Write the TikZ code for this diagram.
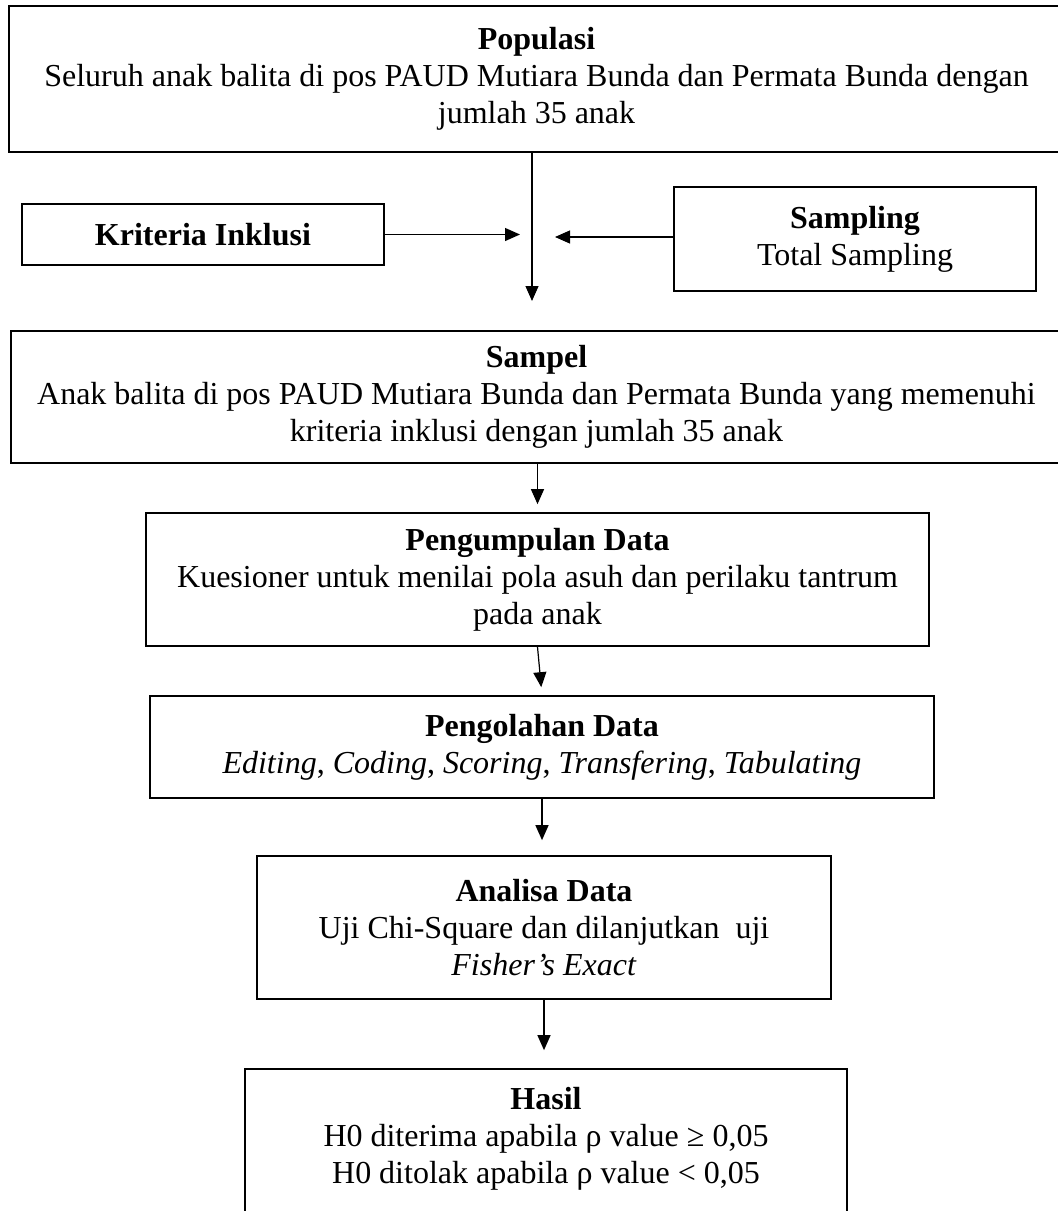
\documentclass[tikz,border=0pt]{standalone}
\usepackage{fontspec}
\setmainfont{Liberation Serif}
\usetikzlibrary{arrows.meta}
\tikzset{
  box/.style={draw, line width=1.7pt, align=center, inner sep=0pt,
    font=\fontsize{32}{37}\selectfont},
  arr/.style={line width=1.2pt, -{Triangle[length=15pt,width=13pt]}},
}
\begin{document}
\begin{tikzpicture}[x=1pt,y=-1pt]
\useasboundingbox (0,0) rectangle (1058,1211);
\fill[white] (0,0) rectangle (1058,1211);
\clip (0,0) rectangle (1058,1211);

\node[box, minimum width=1055pt, minimum height=146pt] (pop) at (536.5,79)
  {\textbf{Populasi}\\Seluruh anak balita di pos PAUD Mutiara Bunda dan Permata Bunda dengan\\jumlah 35 anak};
\node[box, minimum width=362pt, minimum height=61pt] (krit) at (203,234.5)
  {\textbf{Kriteria Inklusi}};
\node[box, minimum width=362pt, minimum height=104pt] (samp) at (855,239)
  {\textbf{Sampling}\\Total Sampling};
\node[box, minimum width=1051pt, minimum height=132pt] (sampel) at (536.5,397)
  {\textbf{Sampel}\\Anak balita di pos PAUD Mutiara Bunda dan Permata Bunda yang memenuhi\\kriteria inklusi dengan jumlah 35 anak};
\node[box, minimum width=783pt, minimum height=133pt] (peng) at (537.5,579.5)
  {\textbf{Pengumpulan Data}\\Kuesioner untuk menilai pola asuh dan perilaku tantrum\\pada anak};
\node[box, minimum width=784pt, minimum height=102pt] (olah) at (542,747)
  {\textbf{Pengolahan Data}\\\textit{Editing}, \textit{Coding}, \textit{Scoring}, \textit{Transfering}, \textit{Tabulating}};
\node[box, minimum width=574pt, minimum height=143pt] (anal) at (544,927.5)
  {\textbf{Analisa Data}\\Uji Chi-Square dan dilanjutkan\ \ uji\\\textit{Fisher’s Exact}};
\node[box, minimum width=602pt, minimum height=170pt] (hasil) at (546,1154)
  {\textbf{Hasil}\\H0 diterima apabila ρ value ≥ 0,05\\H0 ditolak apabila ρ value < 0,05\\\mbox{}};

\coordinate (vtip) at (532,301);
\coordinate (kend) at (520,234.5);
\coordinate (send) at (555,237);

\draw[arr] (pop.south -| vtip) -- (vtip);
\draw[arr] (krit.east) -- (kend);
\draw[arr] (send -| samp.west) -- (send);
\draw[arr, shorten >=8pt] (sampel.south -| peng.north) -- (peng.north);
\draw[arr, shorten >=8pt] (peng.south) -- (olah.north);
\draw[arr, shorten >=15pt] (olah.south) -- (olah.south |- anal.north);
\draw[arr, shorten >=18pt] (anal.south) -- (anal.south |- hasil.north);
\end{tikzpicture}
\end{document}
